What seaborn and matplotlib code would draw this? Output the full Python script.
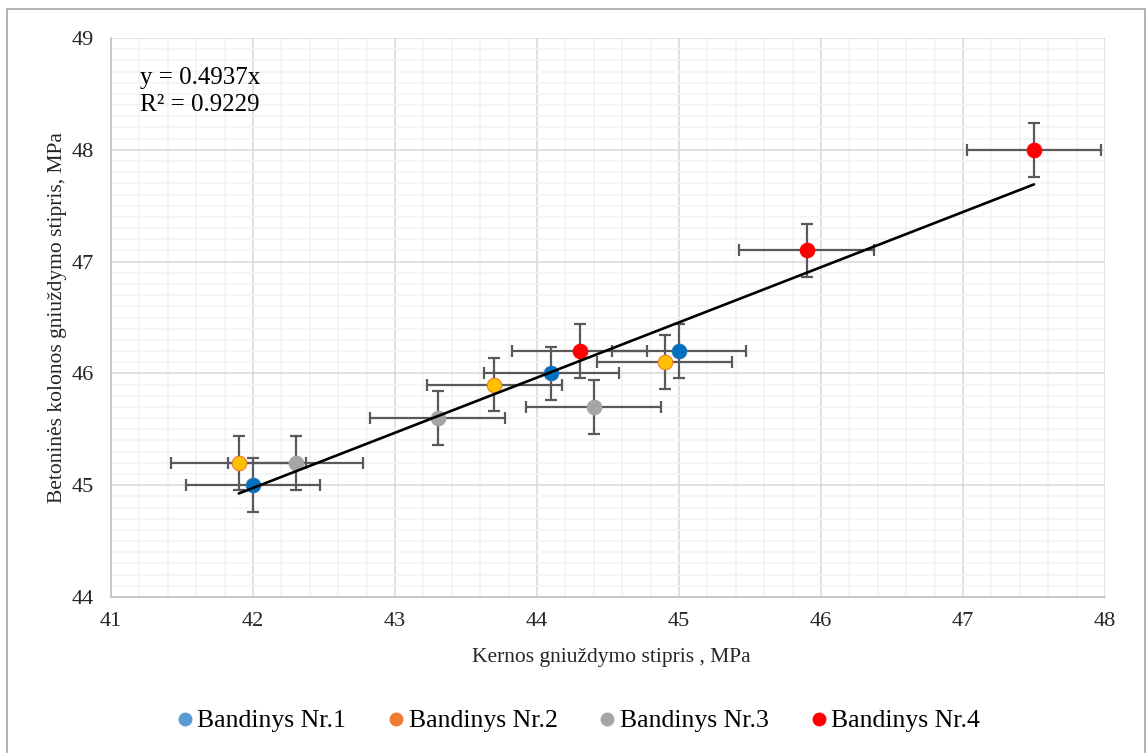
import matplotlib
matplotlib.use("Agg")
import matplotlib.pyplot as plt
from matplotlib.lines import Line2D
from matplotlib.patches import Rectangle
from matplotlib.ticker import MultipleLocator
import numpy as np
import pandas as pd
import seaborn as sns

# Core strength (x) vs column strength (y), MPa, per specimen group
series_names = ["Bandinys Nr.1", "Bandinys Nr.2", "Bandinys Nr.3", "Bandinys Nr.4"]
x_nr1 = [42.0, 44.1, 45.0]
y_nr1 = [45.0, 46.0, 46.2]
x_nr2 = [41.9, 43.7, 44.9]
y_nr2 = [45.2, 45.9, 46.1]
x_nr3 = [42.3, 43.3, 44.4]
y_nr3 = [45.2, 45.6, 45.7]
x_nr4 = [44.3, 45.9, 47.5]
y_nr4 = [46.2, 47.1, 48.0]

x_error = 0.475
y_error = 0.24

# Trendline parameters
trend_slope = 0.4937
trend_intercept = 24.24
r_squared = 0.9229

point_colors = ["#0070C0", "#FFC000", "#A5A5A5", "#FF0000"]
point_edges = ["#2E75B6", "#ED7D31", "#A5A5A5", "#FF0000"]
legend_colors = ["#5B9BD5", "#ED7D31", "#A5A5A5", "#FF0000"]

xs = [x_nr1, x_nr2, x_nr3, x_nr4]
ys = [y_nr1, y_nr2, y_nr3, y_nr4]
df = pd.DataFrame({
    "x": sum(xs, []),
    "y": sum(ys, []),
    "series": sum([[n] * len(v) for n, v in zip(series_names, xs)], []),
})

sns.set_theme(style="white")
plt.rcParams["font.family"] = ["Liberation Serif", "DejaVu Serif"]

W, H = 1147, 753
fig = plt.figure(figsize=(W / 100, H / 100), dpi=100)
left, right, top, bottom = 111, 1105, 38, 597
ax = fig.add_axes([left / W, 1 - bottom / H, (right - left) / W, (bottom - top) / H])

ax.set_xlim(41, 48)
ax.set_ylim(44, 49)
ax.xaxis.set_major_locator(MultipleLocator(1))
ax.xaxis.set_minor_locator(MultipleLocator(0.2))
ax.yaxis.set_major_locator(MultipleLocator(1))
ax.yaxis.set_minor_locator(MultipleLocator(0.1))
ax.grid(which="minor", color="#F2F2F2", linewidth=1.1, zorder=0)
ax.grid(which="major", color="#D9D9D9", linewidth=1.1, zorder=0)
ax.set_axisbelow(True)

for s in ["top", "right"]:
    ax.spines[s].set_visible(False)
for s in ["left", "bottom"]:
    ax.spines[s].set_color("#BFBFBF")
    ax.spines[s].set_linewidth(1.1)

ax.tick_params(which="major", direction="out", length=3.6, width=1.1, color="#BFBFBF",
               labelsize=16, labelcolor="#262626")
ax.tick_params(axis="y", which="major", pad=9)
ax.tick_params(axis="x", which="major", pad=7)
ax.tick_params(which="minor", length=0)

# Error bars
ax.errorbar(df["x"], df["y"], xerr=x_error, yerr=y_error, fmt="none",
            ecolor="#595959", elinewidth=1.6, capsize=4.5, capthick=1.6, zorder=2)

# Points
for name, fc, ec in zip(series_names, point_colors, point_edges):
    sub = df[df["series"] == name]
    sns.scatterplot(data=sub, x="x", y="y", color=fc, edgecolor=ec, linewidth=0.8,
                    s=110, ax=ax, legend=False, zorder=3)

# Linear trendline across the data range
tx = np.array([df["x"].min(), df["x"].max()])
ty = trend_slope * tx + trend_intercept
sns.lineplot(x=tx, y=ty, color="black", linewidth=1.9, ax=ax, zorder=4)

ax.text(0.029, 0.928, f"y = {trend_slope}x", transform=ax.transAxes,
        fontsize=18, color="black", va="center", ha="left")
ax.text(0.029, 0.880, f"R² = {r_squared}", transform=ax.transAxes,
        fontsize=18, color="black", va="center", ha="left")

ax.set_xlabel("Kernos gniuždymo stipris , MPa", fontsize=15.5, color="#262626")
ax.set_ylabel("Betoninės kolonos gniuždymo stipris, MPa", fontsize=15.5, color="#262626")
ax.xaxis.set_label_coords(0.503, -0.0915)
ax.yaxis.set_label_coords(-0.044, 0.5)

handles = [Line2D([], [], marker="o", linestyle="none", markersize=9,
                  markerfacecolor=c, markeredgecolor=c) for c in legend_colors]
fig.legend(handles, series_names, loc="center", bbox_to_anchor=(576 / W, 1 - 721 / H),
           ncol=4, frameon=False, fontsize=18.5, handletextpad=0.0, columnspacing=1.43,
           handlelength=1.0, labelcolor="black")

# Chart frame
fig.patches.append(Rectangle((6.5 / W, -0.01), (1145 - 6.5) / W, 1.01 - 8.5 / H,
                             transform=fig.transFigure, fill=False,
                             edgecolor="#A6A6A6", linewidth=1.2))

fig.savefig("out.png", dpi=100, facecolor="white")
